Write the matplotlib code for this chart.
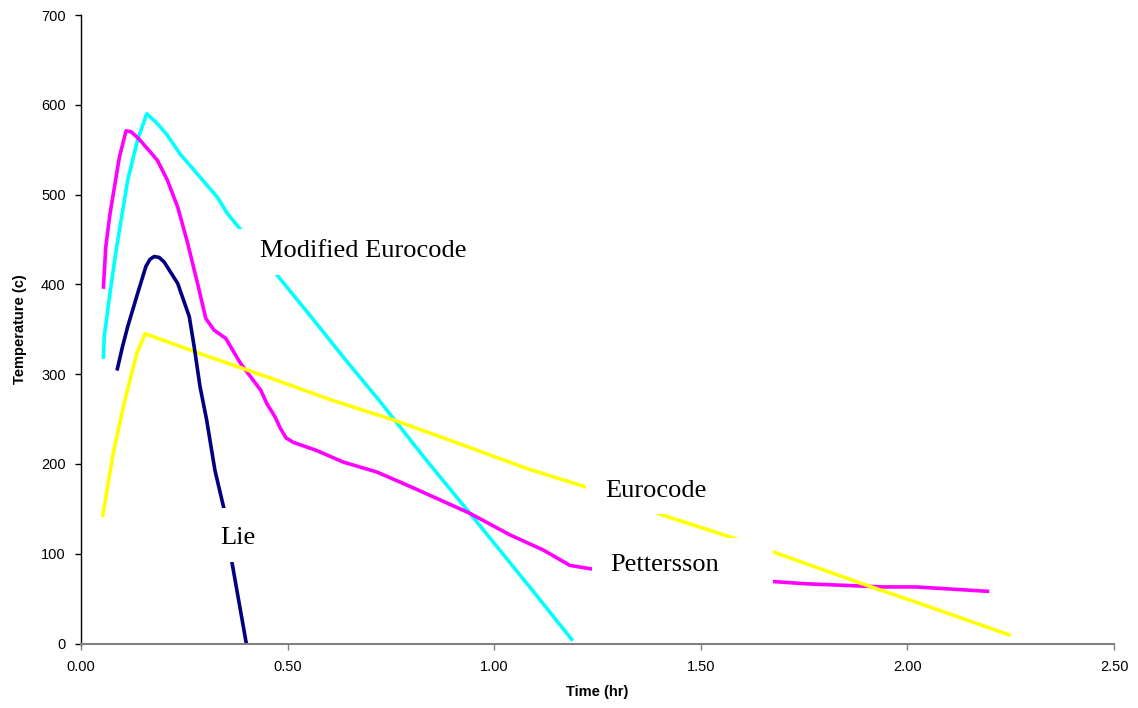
import matplotlib
matplotlib.use("Agg")
import matplotlib.pyplot as plt
from matplotlib.patches import Rectangle

# Modified Eurocode (cyan)
mod_t = [0.054, 0.056, 0.070, 0.085, 0.100, 0.113, 0.137, 0.159, 0.185, 0.209,
         0.240, 0.274, 0.298, 0.330, 0.354, 0.386, 0.430, 0.475, 0.560, 0.640,
         0.721, 0.829, 0.941, 1.091, 1.190]
mod_T = [317, 341, 390, 438, 480, 516, 561, 590, 579, 566,
         545, 527, 514, 497, 479, 461, 436, 410, 362, 316,
         271, 208, 145, 60, 3]

# Pettersson (magenta)
pet_t = [0.054, 0.060, 0.070, 0.085, 0.093, 0.109, 0.121, 0.140, 0.161, 0.185,
         0.209, 0.234, 0.258, 0.282, 0.302, 0.322, 0.350, 0.386, 0.435, 0.450,
         0.470, 0.482, 0.496, 0.514, 0.570, 0.635, 0.716, 0.796, 0.941, 1.038,
         1.119, 1.183, 1.236, 1.450, 1.675, 1.755, 1.940, 2.021, 2.198]
pet_T = [395, 442, 478, 520, 542, 571, 570, 562, 551, 538,
         516, 486, 446, 401, 362, 349, 340, 312, 282, 267,
         252, 240, 229, 224, 215, 202, 191, 175, 145, 121,
         104, 87, 83, 75, 69, 66.5, 63, 63, 58]

# Eurocode (yellow)
euro_t = [0.052, 0.078, 0.106, 0.135, 0.155, 0.300, 0.450, 0.607, 0.756, 0.901,
          1.078, 1.224, 1.401, 1.582, 1.675, 1.900, 2.021, 2.250]
euro_T = [141, 212, 271, 323, 345, 321, 297, 271, 249, 225,
          195, 174, 144, 117, 102, 65, 46, 9]

# Lie (navy)
lie_t = [0.087, 0.100, 0.113, 0.137, 0.157, 0.167, 0.177, 0.189, 0.201, 0.234,
         0.262, 0.274, 0.288, 0.304, 0.324, 0.346, 0.365, 0.400]
lie_T = [304, 330, 353, 390, 420, 428, 431, 430, 425, 401,
         364, 330, 286, 249, 193, 150, 91, 0]

sans = "Liberation Sans"
serif = "Liberation Serif"

fig = plt.figure(figsize=(11.38, 7.08), dpi=100)
ax = fig.add_axes([0.0712, 0.0911, 0.9078, 0.8877])

line_kw = dict(lw=2.6, zorder=2, solid_joinstyle="round", solid_capstyle="butt")
ax.plot(mod_t, mod_T, color="#00FFFF", **line_kw)
ax.plot(pet_t, pet_T, color="#FF00FF", **line_kw)
ax.plot(euro_t, euro_T, color="#FFFF00", **line_kw)
ax.plot(lie_t, lie_T, color="#000080", **line_kw)

# white label boxes (like Excel data labels) covering the lines
boxes = [
    (0.378, 410.4, 0.60, 51.2),   # Modified Eurocode
    (1.222, 144.2, 0.32, 56.8),   # Eurocode
    (1.237, 59.6, 0.438, 57.9),   # Pettersson
    (0.324, 91.0, 0.11, 60.0),    # Lie
]
for x0, y0, w, h in boxes:
    ax.add_patch(Rectangle((x0, y0), w, h, facecolor="white", edgecolor="none", zorder=3))

lab_kw = dict(family=serif, fontsize=19, color="black", zorder=4, va="center")
ax.text(0.434, 437, "Modified Eurocode", **lab_kw)
ax.text(1.268, 170, "Eurocode", **lab_kw)
ax.text(1.280, 87, "Pettersson", **lab_kw)
ax.text(0.336, 118, "Lie", **lab_kw)

ax.set_xlim(0, 2.5)
ax.set_ylim(0, 700)
ax.set_xticks([0, 0.5, 1.0, 1.5, 2.0, 2.5])
ax.set_xticklabels(["0.00", "0.50", "1.00", "1.50", "2.00", "2.50"])
ax.set_yticks(range(0, 701, 100))

for s in ["top", "right"]:
    ax.spines[s].set_visible(False)
ax.spines["left"].set_color("black")
ax.spines["bottom"].set_color("#808080")
ax.spines["bottom"].set_linewidth(1.5)
ax.spines["left"].set_linewidth(1.0)

ax.tick_params(axis="y", direction="out", length=4, width=1, color="black", pad=7)
ax.tick_params(axis="x", direction="out", length=4, width=1, color="#808080", pad=8)
for lbl in ax.get_xticklabels() + ax.get_yticklabels():
    lbl.set_family(sans)
    lbl.set_fontsize(10.5)

ax.set_xlabel("Time (hr)", family=sans, fontsize=10.5, fontweight="bold", labelpad=8)
ax.set_ylabel("Temperature (c)", family=sans, fontsize=10.5, fontweight="bold", labelpad=10)

fig.savefig("out.png", dpi=100)
